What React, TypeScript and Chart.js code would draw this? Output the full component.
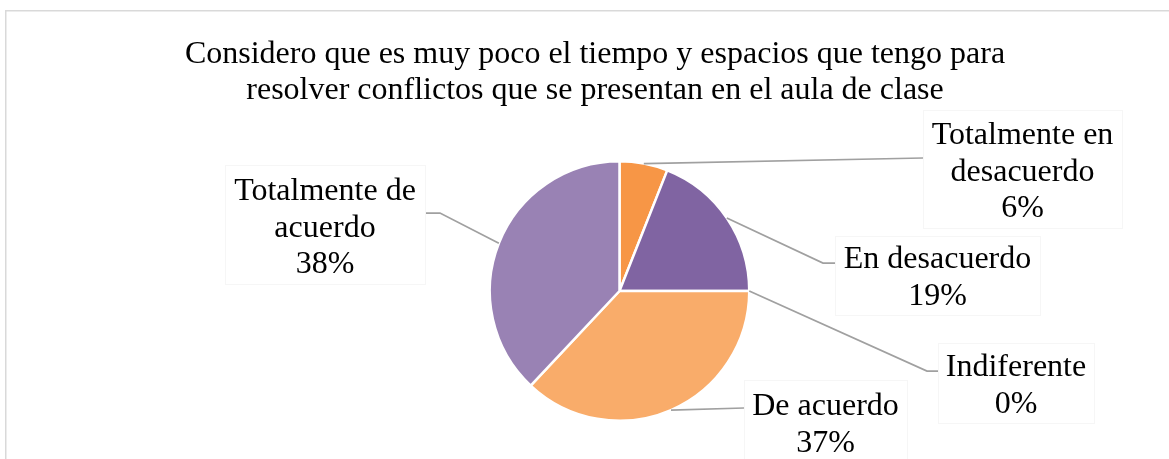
import React, { useEffect, useRef } from "react";
import { Chart, registerables } from "chart.js";

Chart.register(...registerables);

// ---- data ----
const categories = [
  "Totalmente en desacuerdo",
  "En desacuerdo",
  "Indiferente",
  "De acuerdo",
  "Totalmente de acuerdo",
];
const values = [6, 19, 0, 37, 38];
const labelLines = [
  ["Totalmente en", "desacuerdo"],
  ["En desacuerdo"],
  ["Indiferente"],
  ["De acuerdo"],
  ["Totalmente de", "acuerdo"],
];
const titleLines = [
  "Considero que es muy poco el tiempo y espacios que tengo para",
  "resolver conflictos que se presentan en el aula de clase",
];
const colors = ["#F79646", "#8064A2", "#4BACC6", "#F9AC6A", "#9982B4"];

// ---- layout (label boxes & leader elbows, in canvas px) ----
const W = 1169;
const H = 459;
const FONT = "'Liberation Serif', 'Times New Roman', serif";
const LINE_H = 36.7;
const labelBoxes = [
  { x: 923, y: 110, w: 199, h: 118, base: 144, end: [923, 158], elbow: null as null | number[] },
  { x: 835, y: 236, w: 205, h: 79, base: 268, end: [835, 263], elbow: [823, 263] },
  { x: 938, y: 343, w: 156, h: 80, base: 376, end: [938, 371], elbow: [927, 371] },
  { x: 744, y: 380, w: 163, h: 92, base: 415, end: [744, 408], elbow: null },
  { x: 225, y: 165, w: 200, h: 119, base: 200, end: [426, 213], elbow: [440, 213] },
];

const decorPlugin = {
  id: "decor",
  beforeDraw(chart: any) {
    const ctx = chart.ctx;
    ctx.save();
    ctx.fillStyle = "#fff";
    ctx.fillRect(0, 0, W, H);
    ctx.strokeStyle = "#d9d9d9";
    ctx.lineWidth = 1.5;
    ctx.strokeRect(5.75, 10.75, W + 20, H + 20);
    ctx.fillStyle = "#000";
    ctx.font = `32px ${FONT}`;
    ctx.textAlign = "center";
    ctx.textBaseline = "alphabetic";
    titleLines.forEach((t, i) => ctx.fillText(t, 595, 62.5 + i * LINE_H));
    ctx.restore();
  },
  afterDraw(chart: any) {
    const ctx = chart.ctx;
    const meta = chart.getDatasetMeta(0);
    const total = values.reduce((a, b) => a + b, 0);
    ctx.save();
    meta.data.forEach((arc: any, i: number) => {
      const p = arc.getProps(["x", "y", "startAngle", "endAngle", "outerRadius"], true);
      const mid = (p.startAngle + p.endAngle) / 2;
      const sx = p.x + Math.cos(mid) * p.outerRadius;
      const sy = p.y + Math.sin(mid) * p.outerRadius;
      const b = labelBoxes[i];
      // leader line
      ctx.strokeStyle = "#a0a0a0";
      ctx.lineWidth = 1.75;
      ctx.beginPath();
      ctx.moveTo(sx, sy);
      if (b.elbow) ctx.lineTo(b.elbow[0], b.elbow[1]);
      ctx.lineTo(b.end[0], b.end[1]);
      ctx.stroke();
      // box
      ctx.fillStyle = "#fff";
      ctx.fillRect(b.x, b.y, b.w, b.h);
      ctx.strokeStyle = "#f6f6f6";
      ctx.lineWidth = 1;
      ctx.strokeRect(b.x + 0.5, b.y + 0.5, b.w, b.h);
      // text
      const lines = [...labelLines[i], `${Math.round((values[i] / total) * 100)}%`];
      ctx.fillStyle = "#000";
      ctx.font = `32px ${FONT}`;
      ctx.textAlign = "center";
      ctx.textBaseline = "alphabetic";
      lines.forEach((t, j) => ctx.fillText(t, b.x + b.w / 2, b.base + j * LINE_H));
    });
    ctx.restore();
  },
};

export default function App() {
  const ref = useRef<HTMLCanvasElement>(null);
  useEffect(() => {
    document.body.style.margin = "0";
    const chart = new Chart(ref.current as HTMLCanvasElement, {
      type: "pie",
      data: {
        labels: categories,
        datasets: [
          {
            data: values,
            backgroundColor: colors,
            borderColor: "#ffffff",
            borderWidth: 2.5,
          },
        ],
      },
      options: {
        responsive: false,
        animation: false,
        devicePixelRatio: 1,
        layout: { padding: { top: 160, bottom: 37, left: 300, right: 230 } },
        plugins: {
          legend: { display: false },
          title: { display: false },
          tooltip: { enabled: false },
        },
      },
      plugins: [decorPlugin],
    });
    return () => chart.destroy();
  }, []);
  return (
    <div style={{ width: W, height: H }}>
      <canvas ref={ref} width={W} height={H} style={{ display: "block" }} />
    </div>
  );
}
